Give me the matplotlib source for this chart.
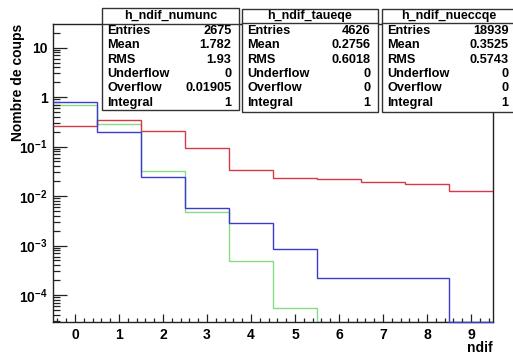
import numpy as np
import matplotlib
matplotlib.use("Agg")
import matplotlib.pyplot as plt
from matplotlib.patches import Rectangle
from matplotlib.ticker import FuncFormatter, MultipleLocator, FixedLocator, NullFormatter

plt.rcParams['font.family'] = ['Liberation Sans', 'DejaVu Sans']
plt.rcParams['font.weight'] = 'bold'
plt.rcParams['mathtext.fontset'] = 'custom'
plt.rcParams['mathtext.rm'] = 'Liberation Sans:bold'
plt.rcParams['mathtext.bf'] = 'Liberation Sans:bold'
plt.rcParams['mathtext.default'] = 'bf'

# bin edges / contents (ndif = 0..9)
edges = np.arange(-0.5, 10.0, 1.0)
h_red = [0.255, 0.34, 0.21, 0.095, 0.033, 0.023, 0.022, 0.019, 0.0175, 0.0126]
h_green = [0.70, 0.285, 0.032, 0.0048, 0.00048, 0.000055, 0, 0, 0, 0]
h_blue = [0.78, 0.195, 0.0246, 0.0058, 0.0029, 0.00086, 0.00022, 0.00022, 0.00022, 0]

ymin, ymax = 2.85e-5, 30

# stats boxes
box_names = ["h_ndif_numunc", "h_ndif_taueqe", "h_ndif_nueccqe"]
stat_labels = ["Entries", "Mean", "RMS", "Underflow", "Overflow", "Integral"]
stat_values = [
    ["2675", "1.782", "1.93", "0", "0.01905", "1"],
    ["4626", "0.2756", "0.6018", "0", "0", "1"],
    ["18939", "0.3525", "0.5743", "0", "0", "1"],
]

W, H = 513, 355
fig = plt.figure(figsize=(W / 100, H / 100), dpi=100)

def fx(px):
    return px / W

def fy(py):
    return 1 - py / H

ax = fig.add_axes([fx(53), fy(322), fx(493) - fx(53), fy(24) - fy(322)])
ax.set_yscale('log')

def floor0(v):
    v = np.asarray(v, dtype=float)
    return np.where(v > 0, v, ymin)

ax.stairs(h_red, edges, baseline=None, color='#d43a48', lw=1.0, zorder=3)
ax.stairs(floor0(h_green), edges, baseline=None, color='#86dc86', lw=1.0, zorder=1.5)
ax.stairs(floor0(h_blue), edges, baseline=None, color='#3a3ccc', lw=1.0, zorder=3, clip_on=False)

ax.set_xlim(-0.5, 9.5)
ax.set_ylim(ymin, ymax)

# ticks only inside the visible range
decades = np.arange(int(np.ceil(np.log10(ymin))), int(np.floor(np.log10(ymax))) + 1)
major_y = 10.0 ** decades
minor_y = np.array([m * 10.0 ** d for d in range(decades[0] - 1, decades[-1] + 1)
                    for m in range(2, 10)])
minor_y = minor_y[(minor_y > ymin) & (minor_y < ymax)]

ax.xaxis.set_major_locator(MultipleLocator(1))
ax.xaxis.set_minor_locator(MultipleLocator(0.2))
ax.yaxis.set_major_locator(FixedLocator(major_y))
ax.yaxis.set_minor_locator(FixedLocator(minor_y))

def ylab(v, pos):
    e = int(round(np.log10(v)))
    if e == 0:
        return "1"
    if e == 1:
        return "10"
    return r"$\mathbf{10^{%d}}$" % e

ax.yaxis.set_major_formatter(FuncFormatter(ylab))
ax.yaxis.set_minor_formatter(NullFormatter())
ax.tick_params(axis='both', which='both', direction='in', top=False, right=False,
               colors='#222222', labelcolor='black', width=0.9)
ax.tick_params(axis='y', which='major', length=10, pad=4, labelsize=10)
ax.tick_params(axis='y', which='minor', length=5)
ax.tick_params(axis='x', which='major', length=6, pad=4, labelsize=10)
ax.tick_params(axis='x', which='minor', length=3)
for lab in ax.get_xticklabels() + ax.get_yticklabels():
    lab.set_fontweight('bold')
for s in ax.spines.values():
    s.set_linewidth(1.0)
    s.set_color('#222222')

fig.text(fx(18), fy(24), "Nombre de coups", rotation=90, ha='center', va='top',
         fontsize=10, fontweight='bold')
fig.text(fx(493), fy(348), "ndif", ha='right', va='center', fontsize=10, fontweight='bold')

# stats boxes: left, right, top, bottom, header line (pixels)
boxes = [(102, 239, 8, 110, 24), (242, 378, 9, 111.5, 23), (382, 516, 9, 112, 23)]
for (l, r, t, b, hl), name, vals in zip(boxes, box_names, stat_values):
    fig.patches.append(Rectangle((fx(l), fy(b)), fx(r) - fx(l), fy(t) - fy(b),
                                 transform=fig.transFigure, facecolor='white',
                                 edgecolor='#333333', lw=1.0, zorder=5))
    fig.add_artist(plt.Line2D([fx(l), fx(r)], [fy(hl), fy(hl)], transform=fig.transFigure,
                              color='#333333', lw=1.0, zorder=6))
    fig.text(fx((l + r) / 2), fy((t + hl) / 2), name, ha='center', va='center',
             fontsize=9, fontweight='bold', zorder=7)
    for i, (lab, val) in enumerate(zip(stat_labels, vals)):
        yy = fy(31 + i * 14.3)
        fig.text(fx(l + 5), yy, lab, ha='left', va='center', fontsize=9.2,
                 fontweight='bold', zorder=7)
        fig.text(fx(r - 7.5), yy, val, ha='right', va='center', fontsize=9.2,
                 fontweight='bold', zorder=7)

fig.savefig("out.png", dpi=100)
